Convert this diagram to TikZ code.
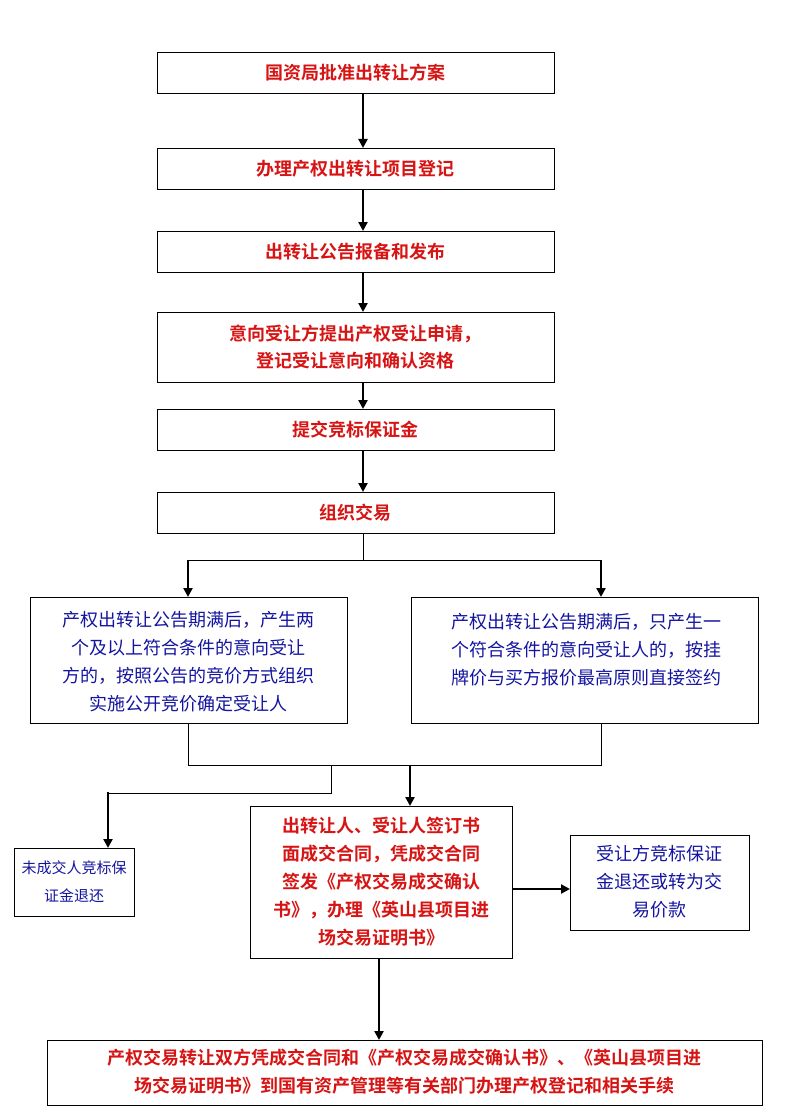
\documentclass[tikz,border=0pt]{standalone}
\usepackage{fontspec}
\newfontfamily\cjk{Noto Sans CJK SC}[BoldFont={Noto Sans CJK SC Bold}]
\usetikzlibrary{arrows.meta}
\definecolor{rd}{RGB}{215,20,20}
\definecolor{bl}{RGB}{20,20,160}
\begin{document}
\begin{tikzpicture}[x=1pt,y=-1pt,
  box/.style={draw,line width=0.9pt,inner sep=0pt},
  rt/.style={text=rd,font=\cjk\bfseries\fontsize{18}{27}\selectfont,align=center},
  bt/.style={text=bl,font=\cjk\fontsize{18}{28}\selectfont,align=center},
  ar/.style={line width=2.6pt,-{Triangle[length=9pt,width=9pt]}},
  ln/.style={line width=0.8pt}]
\useasboundingbox (0,0) rectangle (796,1110);
\draw[box] (157,52) rectangle (554,93); \node[rt] (a) at (355,72.5) {国资局批准出转让方案};
\draw[box] (157,148) rectangle (554,189); \node[rt] (b) at (355,168.5) {办理产权出转让项目登记};
\draw[box] (157,231) rectangle (554,272); \node[rt] (c) at (355,251.5) {出转让公告报备和发布};
\draw[box] (157,312) rectangle (554,382); \node[rt] (d) at (355,347) {意向受让方提出产权受让申请，\\ 登记受让意向和确认资格};
\draw[box] (157,409) rectangle (554,450); \node[rt] (e) at (355,429.5) {提交竞标保证金};
\draw[box] (157,492) rectangle (554,533); \node[rt] (f) at (355,512.5) {组织交易};
\coordinate (a1) at (363,93); \coordinate (b0) at (363,148);
\coordinate (b1) at (363,189); \coordinate (c0) at (363,231);
\coordinate (c1) at (363,272); \coordinate (d0) at (363,312);
\coordinate (d1) at (363,382); \coordinate (e0) at (363,409);
\coordinate (e1) at (363,450); \coordinate (f0) at (363,492);
\draw[ar] (a1)--(b0); \draw[ar] (b1)--(c0); \draw[ar] (c1)--(d0);
\draw[ar] (d1)--(e0); \draw[ar] (e1)--(f0);
\coordinate (f1) at (363,533); \coordinate (s) at (363,560);
\draw[ln] (f1)--(s); \draw[ln] (188,560)--(601,560);
\draw[ar] (188,560)--(188,597); \draw[ar] (601,560)--(601,597);
\draw[box] (30,597) rectangle (347,723);
\node[bt] (L) at (188,662) {产权出转让公告期满后，产生两\\个及以上符合条件的意向受让\\方的，按照公告的竞价方式组织\\实施公开竞价确定受让人};
\draw[box] (411,597) rectangle (758,723);
\node[bt] (R) at (586,650) {产权出转让公告期满后，只产生一\\个符合条件的意向受让人的，按挂\\牌价与买方报价最高原则直接签约};
\draw[ln] (188,723)--(188,765)--(601,765)--(601,723);
\draw[ln] (331,765)--(331,793)--(108,793);
\draw[ar] (108,792)--(108,848);
\draw[ar] (410,765)--(410,806);
\draw[box] (14,848) rectangle (134,916);
\node[bt,font=\cjk\fontsize{15}{28}\selectfont] (N) at (74,882) {未成交人竞标保\\证金退还};
\draw[box] (250,806) rectangle (512,958);
\node[rt,font=\cjk\bfseries\fontsize{18}{28}\selectfont] (M) at (381,882) {出转让人、受让人签订书\\面成交合同，凭成交合同\\签发《产权交易成交确认\\书》，办理《英山县项目进\\场交易证明书》};
\draw[box] (570,835) rectangle (749,930);
\node[bt,font=\cjk\fontsize{18}{28}\selectfont] (Q) at (659,882) {受让方竞标保证\\金退还或转为交\\易价款};
\draw[ar] (512,889)--(570,889);
\draw[ar] (379,958)--(379,1040);
\draw[box] (47,1040) rectangle (762,1105);
\node[rt,font=\cjk\bfseries\fontsize{18}{28}\selectfont] (Z) at (404,1072) {产权交易转让双方凭成交合同和《产权交易成交确认书》、《英山县项目进\\场交易证明书》到国有资产管理等有关部门办理产权登记和相关手续};
\end{tikzpicture}
\end{document}
